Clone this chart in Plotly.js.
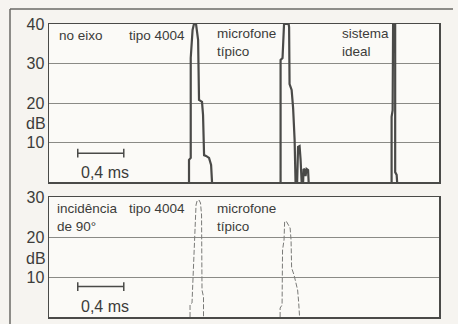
<!DOCTYPE html>
<html>
<head>
<meta charset="utf-8">
<script src="https://cdn.plot.ly/plotly-3.0.1.min.js"></script>
<style>
html,body{margin:0;padding:0;background:#f6f4f0;}
#chart{width:458px;height:324px;}
</style>
</head>
<body>
<div id="chart"></div>
<script>
// ---- data (time in ms, level in dB) ----
// top panel: "no eixo"
const topT4004_t = [1.217,1.217,1.232,1.232,1.248,1.260,1.278,1.287,1.296,1.304,1.330,1.339,1.348,1.365,1.391,1.409,1.417];
const topT4004_db = [0,5.6,6.1,31.4,38.5,40,40,38.5,36,20.8,20.3,17,6.8,6.6,6.1,4.3,0];
const topMic_t = [2.013,2.013,2.030,2.039,2.043,2.083,2.087,2.091,2.109,2.122,2.135,2.143,2.157,2.165,2.178,2.187,2.196,2.209,2.213,2.226,2.230,2.239,2.252,2.257];
const topMic_db = [0,30.9,31.4,39.5,40,40,39.2,24.8,23.3,18.7,10.6,0,0,8.9,9.1,5.6,0,0,3.3,3.0,1.5,3.3,3.0,0];
const topIdeal_t = [2.978,2.978,2.987,2.987,2.991,3.009,3.009,3.022,3.026];
const topIdeal_db = [0,16.5,18.2,39.7,40,40,2.5,1.8,0];
// bottom panel: "incidência de 90°"
const botT4004_t = [1.226,1.226,1.243,1.257,1.265,1.278,1.287,1.304,1.317,1.326,1.330,1.343,1.343];
const botT4004_db = [0,3,3.5,14.25,21.75,28,29,29.25,28.5,25.5,6.75,5,0];
const botMic_t = [2.009,2.009,2.026,2.030,2.043,2.048,2.061,2.078,2.096,2.104,2.109,2.130,2.148,2.161,2.170,2.178];
const botMic_db = [0,2.25,3,16.75,19.25,23.75,24,23,22.25,19.25,12.25,10.5,8,6.75,3.75,0];
// axes
const topTicks = [10,20,30,40];
const botTicks = [10,20,30];
const timeRange = [0, 3.39];
const scaleBarStart = 0.25, scaleBarLen = 0.4; // ms

const W=458,H=324;
const px = x => x/W;
const py = y => 1 - y/H;

const ink = '#4a4a48';
const font = {family:'"Liberation Sans", Arial, sans-serif', color:'#3c3c3a'};

const thick = {color:ink, width:2.2};
const thin = {color:'#7a7a78', width:1, dash:'5px,2px'};

const data = [
  {x:topT4004_t, y:topT4004_db, xaxis:'x', yaxis:'y', mode:'lines', line:thick, hoverinfo:'skip'},
  {x:topMic_t, y:topMic_db, xaxis:'x', yaxis:'y', mode:'lines', line:thick, hoverinfo:'skip'},
  {x:topIdeal_t, y:topIdeal_db, xaxis:'x', yaxis:'y', mode:'lines', line:thick, hoverinfo:'skip'},
  {x:botT4004_t, y:botT4004_db, xaxis:'x2', yaxis:'y2', mode:'lines', line:thin, hoverinfo:'skip'},
  {x:botMic_t, y:botMic_db, xaxis:'x2', yaxis:'y2', mode:'lines', line:thin, hoverinfo:'skip'}
];

const xBase = {range:timeRange, showgrid:false, zeroline:false, showticklabels:false, ticks:'',
  showline:true, mirror:true, linecolor:ink, linewidth:1.5, fixedrange:true};
const yBase = {showgrid:true, gridcolor:'#8a8a86', gridwidth:1, zeroline:false, ticks:'',
  showline:true, mirror:true, linecolor:ink, linewidth:1.5, tickfont:Object.assign({size:16},font), fixedrange:true};

function ann(text, x, y, xa, ya, size){
  return {text:text, xref:'paper', yref:'paper', x:px(x), y:py(y), xanchor:xa, yanchor:ya,
    showarrow:false, align:'left', font:Object.assign({size:size},font), borderpad:0};
}

const annotations = [
  ann('no eixo',58,35,'left','middle',13.5),
  ann('tipo 4004',128,35,'left','middle',13.5),
  ann('microfone<br>típico',216,25,'left','top',13.5),
  ann('sistema<br>ideal',341,25,'left','top',13.5),
  ann('dB',47,123,'right','middle',16),
  ann('0,4 ms',80,172,'left','middle',16),
  ann('incidência<br>de 90°',56,200,'left','top',13.5),
  ann('tipo 4004',128,208,'left','middle',13.5),
  ann('microfone<br>típico',216,200,'left','top',13.5),
  ann('dB',47,258,'right','middle',16),
  ann('0,4 ms',80,306,'left','middle',16)
];

function scaleBar(xa, ya, yv){
  const l = {color:ink, width:1.5};
  const x0 = scaleBarStart, x1 = scaleBarStart + scaleBarLen;
  return [
    {type:'line', xref:xa, yref:ya, x0:x0, x1:x1, y0:yv, y1:yv, line:l},
    {type:'line', xref:xa, yref:ya, x0:x0, x1:x0, y0:yv-1.1, y1:yv+1.1, line:l},
    {type:'line', xref:xa, yref:ya, x0:x1, x1:x1, y0:yv-1.1, y1:yv+1.1, line:l}
  ];
}

const shapes = [].concat(
  scaleBar('x','y',7.3),
  scaleBar('x2','y2',7.6),
  [
    {type:'line', xref:'paper', yref:'paper', x0:px(10), x1:px(10), y0:py(9), y1:py(324), line:{color:'#6a6a66', width:1.5}},
    {type:'line', xref:'paper', yref:'paper', x0:px(10), x1:px(453), y0:py(9), y1:py(9), line:{color:'#6a6a66', width:1.5}}
  ]
);

const layout = {
  width:W, height:H, margin:{l:0,r:0,t:0,b:0},
  paper_bgcolor:'#f6f4f0', plot_bgcolor:'#fbfaf7', showlegend:false,
  xaxis:Object.assign({domain:[px(49),px(439)], anchor:'y'}, xBase),
  yaxis:Object.assign({domain:[py(182),py(24)], range:[0,40], tickvals:topTicks, anchor:'x'}, yBase),
  xaxis2:Object.assign({domain:[px(49),px(439)], anchor:'y2'}, xBase),
  yaxis2:Object.assign({domain:[py(317),py(197)], range:[0,30], tickvals:botTicks, anchor:'x2'}, yBase),
  annotations:annotations, shapes:shapes, font:font
};

Plotly.newPlot('chart', data, layout, {displayModeBar:false, staticPlot:true});
</script>
</body>
</html>
